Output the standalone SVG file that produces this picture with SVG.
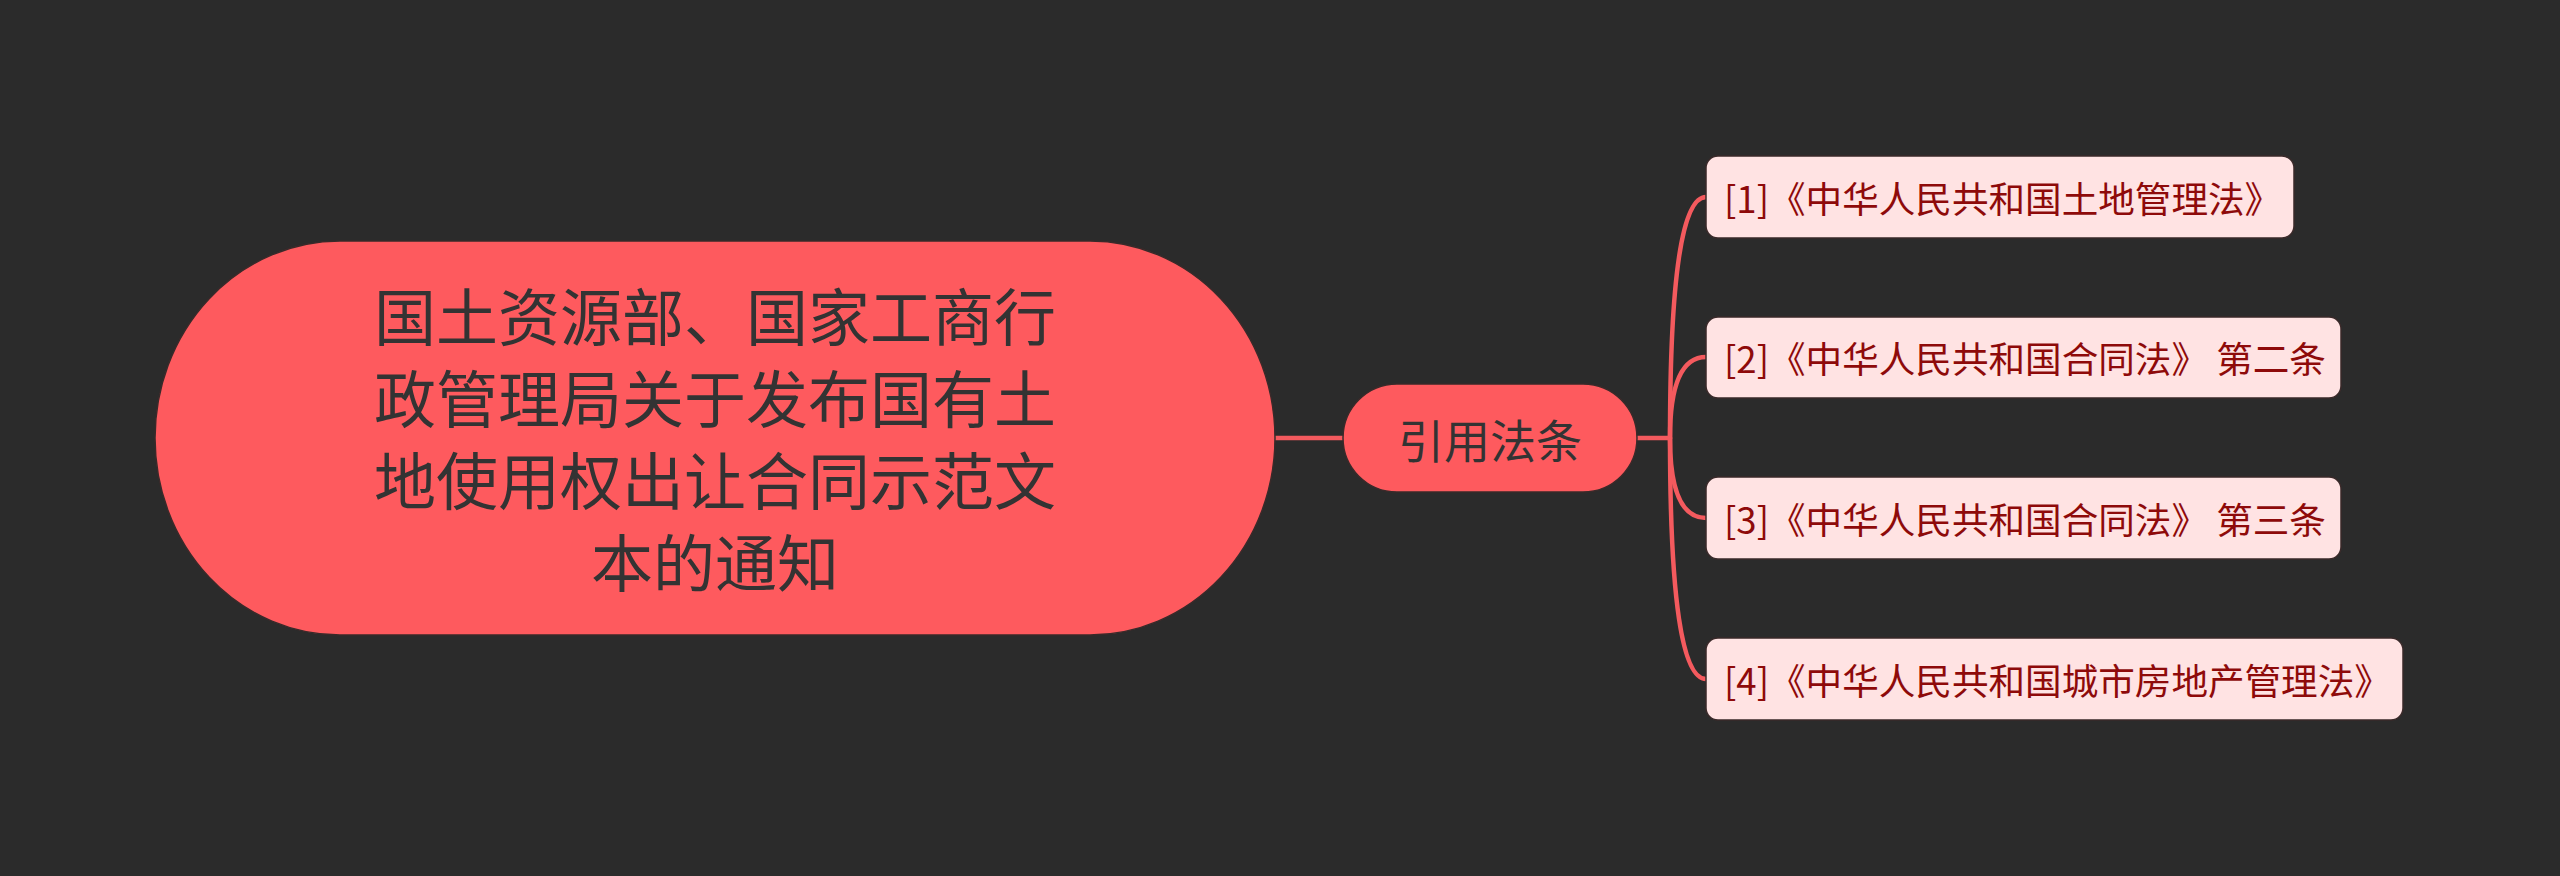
<svg xmlns="http://www.w3.org/2000/svg" width="2560" height="876" viewBox="0 0 2560 876">
<style>
.bg{fill:#2b2b2b}
.root-shape{fill:#fe5a5e;stroke:#3a2a2a;stroke-width:1.5}
.mid-shape{fill:#fe5a5e;stroke:#3a2a2a;stroke-width:1.5}
.leaf-shape{fill:#ffe3e3;stroke:#3a2a2a;stroke-width:1.5}
.t{font-family:"Noto Sans CJK SC","Noto Sans",sans-serif;dominant-baseline:central}
.root-text{font-size:62px;fill:#333333;text-anchor:middle}
.mid-text{font-size:46px;fill:#333333;text-anchor:middle}
.leaf-text{font-size:36.6px;fill:#8e0a0a;text-anchor:start}
.conn{fill:none;stroke:#f45a5e;stroke-width:4.5;stroke-linecap:round}
</style>
<rect class="bg" x="0" y="0" width="2560" height="876"/>
<g id="connectors">
<path class="conn" d="M1274 438 L1343 438"/>
<path class="conn" d="M1637 438 L1670 438"/>
<path class="conn" d="M1670 438 Q1670 197 1706 197"/>
<path class="conn" d="M1670 438 Q1670 357 1706 357"/>
<path class="conn" d="M1670 438 Q1670 518 1706 518"/>
<path class="conn" d="M1670 438 Q1670 679 1706 679"/>
</g>
<g id="root">
<rect class="root-shape" x="155" y="241" width="1120" height="394" rx="185" ry="197"/>
<text class="t root-text" x="715" y="314">国土资源部、国家工商行</text>
<text class="t root-text" x="715" y="396">政管理局关于发布国有土</text>
<text class="t root-text" x="715" y="478">地使用权出让合同示范文</text>
<text class="t root-text" x="715" y="560">本的通知</text>
</g>
<g id="mid">
<rect class="mid-shape" x="1343" y="384" width="294" height="108" rx="54" ry="54"/>
<text class="t mid-text" x="1490" y="438">引用法条</text>
</g>
<g id="leaf1">
<rect class="leaf-shape" x="1706" y="156" width="588" height="82" rx="12" ry="12"/>
<text class="t leaf-text" x="1724" y="197">[1]《中华人民共和国土地管理法》</text>
</g>
<g id="leaf2">
<rect class="leaf-shape" x="1706" y="317" width="635" height="81" rx="12" ry="12"/>
<text class="t leaf-text" x="1724" y="357">[2]《中华人民共和国合同法》 第二条</text>
</g>
<g id="leaf3">
<rect class="leaf-shape" x="1706" y="477" width="635" height="82" rx="12" ry="12"/>
<text class="t leaf-text" x="1724" y="518">[3]《中华人民共和国合同法》 第三条</text>
</g>
<g id="leaf4">
<rect class="leaf-shape" x="1706" y="638" width="697" height="82" rx="12" ry="12"/>
<text class="t leaf-text" x="1724" y="679">[4]《中华人民共和国城市房地产管理法》</text>
</g>
</svg>
